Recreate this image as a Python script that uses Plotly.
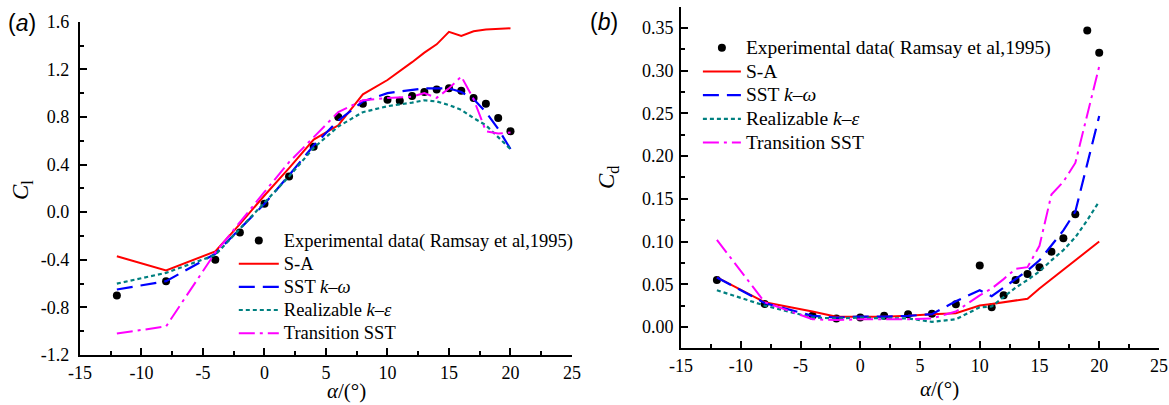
import plotly.graph_objects as go

# ---------------- data: lift coefficient (panel a) ----------------
alpha_exp = [-12, -8, -4, -2, 0, 2, 4, 6, 8, 10, 11, 12, 13, 14, 15, 16, 17, 18, 19, 20]
cl_exp = [-0.70, -0.58, -0.40, -0.17, 0.07, 0.30, 0.55, 0.80, 0.91, 0.945, 0.935,
          0.975, 1.01, 1.03, 1.04, 1.02, 0.96, 0.91, 0.79, 0.68]

alpha_cl = [-12, -8, -4, -2, 0, 2, 4, 6, 8, 10, 12, 13, 14, 15, 16, 17, 18, 19, 20]
cl_sa = [-0.37, -0.49, -0.33, -0.10, 0.14, 0.37, 0.61, 0.73, 0.99, 1.11, 1.26, 1.34,
         1.41, 1.515, 1.48, 1.52, 1.535, 1.54, 1.545]
cl_sst = [-0.65, -0.58, -0.35, -0.14, 0.07, 0.31, 0.56, 0.77, 0.93, 1.00, 1.03, 1.04,
          1.04, 1.04, 1.01, 0.95, 0.84, 0.70, 0.53]
cl_rke = [-0.60, -0.51, -0.36, -0.14, 0.08, 0.30, 0.54, 0.72, 0.84, 0.89, 0.92, 0.94,
          0.93, 0.90, 0.86, 0.79, 0.73, 0.63, 0.53]
cl_tsst = [-1.02, -0.96, -0.34, -0.08, 0.17, 0.42, 0.63, 0.84, 0.94, 0.96, 0.97, 1.00,
           0.96, 1.04, 1.14, 0.95, 0.68, 0.66, 0.67]

# ---------------- data: drag coefficient (panel b) ----------------
cd_exp = [0.055, 0.027, 0.013, 0.010, 0.011, 0.013, 0.015, 0.0155, 0.0265, 0.072, 0.023,
          0.037, 0.055, 0.062, 0.070, 0.088, 0.104, 0.132, 0.347, 0.321]

alpha_cd = [-12, -8, -4, -2, 0, 2, 4, 6, 8, 10, 11, 12, 13, 14, 15, 16, 17, 18, 19, 20]
cd_sa = [0.058, 0.029, 0.018, 0.012, 0.012, 0.012, 0.013, 0.015, 0.016, 0.025, 0.027,
         0.029, 0.031, 0.033, 0.045, 0.056, 0.067, 0.078, 0.089, 0.100]
cd_sst = [0.058, 0.028, 0.013, 0.011, 0.012, 0.012, 0.013, 0.015, 0.030, 0.043, 0.036,
          0.046, 0.057, 0.066, 0.078, 0.095, 0.113, 0.135, 0.190, 0.247]
cd_rke = [0.043, 0.025, 0.011, 0.010, 0.011, 0.010, 0.010, 0.006, 0.009, 0.023, 0.024,
          0.035, 0.046, 0.055, 0.065, 0.078, 0.090, 0.105, 0.125, 0.147]
cd_tsst = [0.102, 0.029, 0.009, 0.008, 0.009, 0.009, 0.009, 0.010, 0.018, 0.037, 0.045,
           0.056, 0.068, 0.070, 0.095, 0.155, 0.170, 0.192, 0.248, 0.305]

# ---------------- tick labels ----------------
x_ticks = [-15, -10, -5, 0, 5, 10, 15, 20, 25]
x_ticktext = ["-15", "-10", "-5", "0", "5", "10", "15", "20", "25"]
cl_ticks = [-1.2, -0.8, -0.4, 0.0, 0.4, 0.8, 1.2, 1.6]
cl_ticktext = ["-1.2", "-0.8", "-0.4", "0.0", "0.4", "0.8", "1.2", "1.6"]
cd_ticks = [0.00, 0.05, 0.10, 0.15, 0.20, 0.25, 0.30, 0.35]
cd_ticktext = ["0.00", "0.05", "0.10", "0.15", "0.20", "0.25", "0.30", "0.35"]

names = ["Experimental data( Ramsay et al,1995)", "S-A", "SST <i>k</i>\u2013<i>\u03c9</i>",
         "Realizable <i>k</i>\u2013<i>\u03b5</i>", "Transition SST"]

SERIF = "Liberation Serif"
SANS = "Liberation Sans"

styles = [
    dict(color="#ff0000", width=2, dash="solid"),
    dict(color="#0000ff", width=2.2, dash="16px,8px"),
    dict(color="#008080", width=2.2, dash="4px,3px"),
    dict(color="#ff00ff", width=2, dash="16px,5px,3px,5px"),
]

fig = go.Figure()


def add_panel(xa, ya, legend, text_px, x_sim, exp_vals, sims):
    # legend rows are spaced by the legend font; the label itself is drawn a bit larger
    labels = [f'<span style="font-size:{text_px}px">{n}</span>' for n in names]
    fig.add_trace(go.Scatter(
        x=alpha_exp, y=exp_vals, mode="markers", name=labels[0],
        marker=dict(color="black", size=8), xaxis=xa, yaxis=ya, legend=legend))
    for label, vals, st in zip(labels[1:], sims, styles):
        fig.add_trace(go.Scatter(
            x=x_sim, y=vals, mode="lines", name=label, line=st,
            xaxis=xa, yaxis=ya, legend=legend))


add_panel("x", "y", "legend", 18.5, alpha_cl, cl_exp, [cl_sa, cl_sst, cl_rke, cl_tsst])
add_panel("x2", "y2", "legend2", 19.5, alpha_cd, cd_exp, [cd_sa, cd_sst, cd_rke, cd_tsst])

tick_font = dict(family=SERIF, size=18, color="black")
common = dict(
    showline=True, linecolor="black", linewidth=2, mirror=False,
    ticks="inside", ticklen=7, tickwidth=2, tickcolor="black",
    showgrid=False, zeroline=False, tickfont=tick_font, automargin=False,
)


def minor(step):
    return dict(ticks="inside", ticklen=4, tickwidth=2, tickcolor="black",
                dtick=step, tick0=0, showgrid=False)


fig.update_layout(
    template="none",
    width=1169, height=405,
    margin=dict(l=0, r=0, t=0, b=0, autoexpand=False),
    paper_bgcolor="white", plot_bgcolor="white",
    font=dict(family=SERIF, color="black"),
    xaxis=dict(domain=[0.0684, 0.4893], range=[-15, 25], anchor="y",
               tickvals=x_ticks, ticktext=x_ticktext, minor=minor(2.5), **common),
    yaxis=dict(domain=[0.1235, 0.9464], range=[-1.2, 1.6], anchor="x",
               tickvals=cl_ticks, ticktext=cl_ticktext, minor=minor(0.2),
               ticklabelstandoff=5, **common),
    xaxis2=dict(domain=[0.5826, 0.9914], range=[-15, 25], anchor="y2",
                tickvals=x_ticks, ticktext=x_ticktext, minor=minor(2.5), **common),
    yaxis2=dict(domain=[0.14, 0.9835], range=[-0.025, 0.375], anchor="x2",
                tickvals=cd_ticks, ticktext=cd_ticktext, minor=minor(0.025),
                ticklabelstandoff=2, **common),
    legend=dict(x=0.200, y=0.447, xanchor="left", yanchor="top",
                bgcolor="rgba(0,0,0,0)", tracegroupgap=0, itemwidth=40,
                font=dict(family=SERIF, size=15.5, color="black")),
    legend2=dict(x=0.597, y=0.9235, xanchor="left", yanchor="top",
                 bgcolor="rgba(0,0,0,0)", tracegroupgap=0, itemwidth=38,
                 font=dict(family=SERIF, size=15.9, color="black")),
    showlegend=True,
)

annots = [
    dict(text="(<i>a</i>)", x=22, y=23, font=dict(family=SANS, size=23)),
    dict(text="(<i>b</i>)", x=604, y=22, font=dict(family=SANS, size=23)),
    dict(text="<i>C</i><sub>l</sub>", x=22, y=190, textangle=-90,
         font=dict(family=SERIF, size=23)),
    dict(text="<i>C</i><sub>d</sub>", x=608, y=178, textangle=-90,
         font=dict(family=SERIF, size=23)),
    dict(text="<i>\u03b1</i>/(\u00b0)", x=346, y=391, font=dict(family=SERIF, size=21)),
    dict(text="<i>\u03b1</i>/(\u00b0)", x=940, y=389, font=dict(family=SERIF, size=21)),
]
for a in annots:
    fig.add_annotation(
        text=a["text"], x=a["x"] / 1169, y=1 - a["y"] / 405,
        xref="paper", yref="paper", xanchor="center", yanchor="middle",
        showarrow=False, textangle=a.get("textangle", 0),
        font=dict(color="black", **a["font"]))

fig.write_html("out.html")
